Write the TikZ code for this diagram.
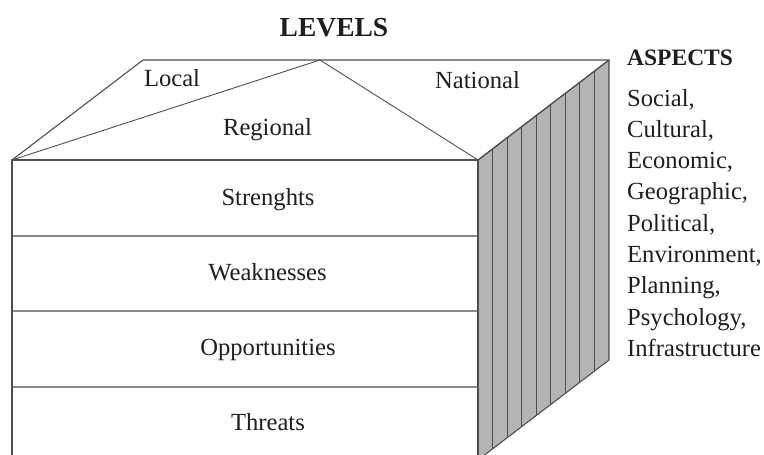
\documentclass[tikz,border=0pt]{standalone}
\usepackage{fontspec}
\setmainfont{Liberation Serif}
\definecolor{edge}{HTML}{4E4E4E}
\definecolor{sideface}{HTML}{B4B4B4}
\definecolor{divider}{HTML}{8A8A8A}
\definecolor{ink}{HTML}{1E1E1E}
\begin{document}
\begin{tikzpicture}[x=1pt,y=-1pt,
  outline/.style={draw=edge,line width=1.1pt,line join=round},
  thin/.style={draw=edge,line width=0.9pt},
  divline/.style={draw=divider,line width=1.1pt},
  lbl/.style={font=\fontsize{24.6}{29}\selectfont,anchor=base,inner sep=0pt,text=ink},
  aspect/.style={lbl,anchor=base west},
  headbold/.style={font=\fontsize{27.5}{32}\selectfont\bfseries,anchor=base,inner sep=0pt,text=ink},
  aspecthead/.style={font=\fontsize{23.5}{28}\selectfont\bfseries,anchor=base west,inner sep=0pt,text=ink}]
\useasboundingbox (0,0) rectangle (764,455);
\begin{scope}
\clip (0,0) rectangle (764,455);
% corner points
\coordinate (FL) at (12,160);
\coordinate (FR) at (478,160);
\coordinate (BL) at (143,60);
\coordinate (APEX) at (320,60);
\coordinate (BR) at (609,60);
\coordinate (SRB) at (609,360);
\coordinate (FRB) at (478,460);
\coordinate (FLB) at (12,460);
% side face
\fill[sideface] (FR) -- (BR) -- (SRB) -- (FRB) -- cycle;
\foreach \i in {1,...,8}{
  \draw[thin] ({478+\i*131/9},{160-\i*100/9}) -- ({478+\i*131/9},{460-\i*100/9});
}
\draw[outline] (FR) -- (BR) -- (SRB) -- (FRB) -- cycle;
% roof
\draw[outline] (FL) -- (BL) -- (BR) -- (FR) -- cycle;
\draw[thin] (FL) -- (APEX) -- (FR);
% front face rows
\coordinate (D1L) at (12,236); \coordinate (D1R) at (478,236);
\coordinate (D2L) at (12,311); \coordinate (D2R) at (478,311);
\coordinate (D3L) at (12,387); \coordinate (D3R) at (478,387);
\draw[divline] (D1L) -- (D1R);
\draw[divline] (D2L) -- (D2R);
\draw[divline] (D3L) -- (D3R);
\draw[outline] (FLB) -- (FL) -- (FR) -- (FRB);
\end{scope}
% labels
\node[headbold] (levels) at (334,36.7) {LEVELS};
\node[lbl] (local) at (172,86.7) {Local};
\node[lbl] (national) at (477.5,88.3) {National};
\node[lbl] (regional) at (267.5,135) {Regional};
\node[lbl] (strengths) at (268,205) {Strenghts};
\node[lbl] (weaknesses) at (267.5,280) {Weaknesses};
\node[lbl] (opportunities) at (268,355) {Opportunities};
\node[lbl] (threats) at (268,430) {Threats};
% aspects
\node[aspecthead] (aspects) at (627,65.7) {ASPECTS};
\node[aspect] (a1) at (627,106) {Social,};
\node[aspect] (a2) at (627,137.3) {Cultural,};
\node[aspect] (a3) at (627,168.6) {Economic,};
\node[aspect] (a4) at (627,199.9) {Geographic,};
\node[aspect] (a5) at (627,231.2) {Political,};
\node[aspect] (a6) at (627,262.5) {Environment,};
\node[aspect] (a7) at (627,293.8) {Planning,};
\node[aspect] (a8) at (627,325.1) {Psychology,};
\node[aspect] (a9) at (627,356.4) {Infrastructure};
\end{tikzpicture}
\end{document}
